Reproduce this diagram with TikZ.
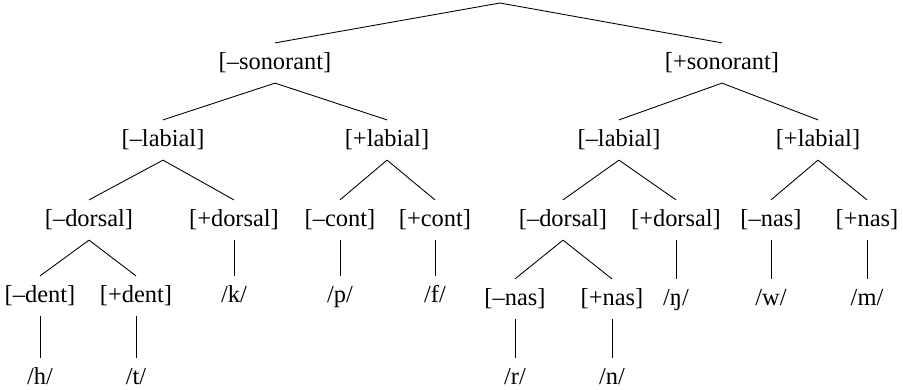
\documentclass[tikz,border=0pt]{standalone}
\usepackage{fontspec}
\setmainfont{Liberation Serif}
\usepackage{tikz}
\usetikzlibrary{positioning}

\begin{document}
\begin{tikzpicture}[feat/.style={inner sep=5.5pt, outer sep=0pt, text height=9.4pt, text depth=2.5pt, font=\fontsize{13.9}{16}\selectfont}]
                        \useasboundingbox (0, 0) rectangle (18.06, -7.78);
                        \coordinate (root) at (10, -0.06);
                        \node[feat] (sonm) at (5.5, -1.26) {[–sonorant]};
                        \node[feat] (sonp) at (14.44, -1.26) {[+sonorant]};
                        \node[feat] (labm1) at (3.26, -2.8) {[–labial]};
                        \node[feat] (labp1) at (7.74, -2.8) {[+labial]};
                        \node[feat] (labm2) at (12.38, -2.8) {[–labial]};
                        \node[feat] (labp2) at (16.36, -2.8) {[+labial]};
                        \node[feat] (dorm1) at (1.78, -4.4) {[–dorsal]};
                        \node[feat] (dorp1) at (4.68, -4.4) {[+dorsal]};
                        \node[feat] (contm) at (6.8, -4.4) {[–cont]};
                        \node[feat] (contp) at (8.7, -4.4) {[+cont]};
                        \node[feat] (dorm2) at (11.26, -4.4) {[–dorsal]};
                        \node[feat] (dorp2) at (13.52, -4.4) {[+dorsal]};
                        \node[feat] (nasm1) at (15.42, -4.4) {[–nas]};
                        \node[feat] (nasp1) at (17.34, -4.4) {[+nas]};
                        \node[feat] (dentm) at (0.8, -5.92) {[–dent]};
                        \node[feat] (dentp) at (2.72, -5.92) {[+dent]};
                        \node[feat] (k) at (4.68, -5.92) {/k/};
                        \node[feat] (p) at (6.8, -5.92) {/p/};
                        \node[feat] (f) at (8.7, -5.92) {/f/};
                        \node[feat] (nasm2) at (10.3, -5.98) {[–nas]};
                        \node[feat] (nasp2) at (12.24, -5.98) {[+nas]};
                        \node[feat] (ng) at (13.52, -5.98) {/ŋ/};
                        \node[feat] (w) at (15.42, -5.98) {/w/};
                        \node[feat] (m) at (17.34, -5.98) {/m/};
                        \node[feat] (h) at (0.8, -7.56) {/h/};
                        \node[feat] (t) at (2.72, -7.56) {/t/};
                        \node[feat] (r) at (10.3, -7.56) {/r/};
                        \node[feat] (n) at (12.24, -7.56) {/n/};

                        \draw[line width=0.5pt]
                        (root) edge (sonm.north)
                        (root) edge (sonp.north)
                        (sonm.south) edge (labm1.north)
                        (sonm.south) edge (labp1.north)
                        (sonp.south) edge (labm2.north)
                        (sonp.south) edge (labp2.north)
                        (labm1.south) edge (dorm1.north)
                        (labm1.south) edge (dorp1.north)
                        (labp1.south) edge (contm.north)
                        (labp1.south) edge (contp.north)
                        (labm2.south) edge (dorm2.north)
                        (labm2.south) edge (dorp2.north)
                        (labp2.south) edge (nasm1.north)
                        (labp2.south) edge (nasp1.north)
                        (dorm1.south) edge (dentm.north)
                        (dorm1.south) edge (dentp.north)
                        (dorp1.south) edge (k.north)
                        (contm.south) edge (p.north)
                        (contp.south) edge (f.north)
                        (dorm2.south) edge (nasm2.north)
                        (dorm2.south) edge (nasp2.north)
                        (dorp2.south) edge (ng.north)
                        (nasm1.south) edge (w.north)
                        (nasp1.south) edge (m.north)
                        (dentm.south) edge (h.north)
                        (dentp.south) edge (t.north)
                        (nasm2.south) edge (r.north)
                        (nasp2.south) edge (n.north);
                    \end{tikzpicture}
\end{document}
